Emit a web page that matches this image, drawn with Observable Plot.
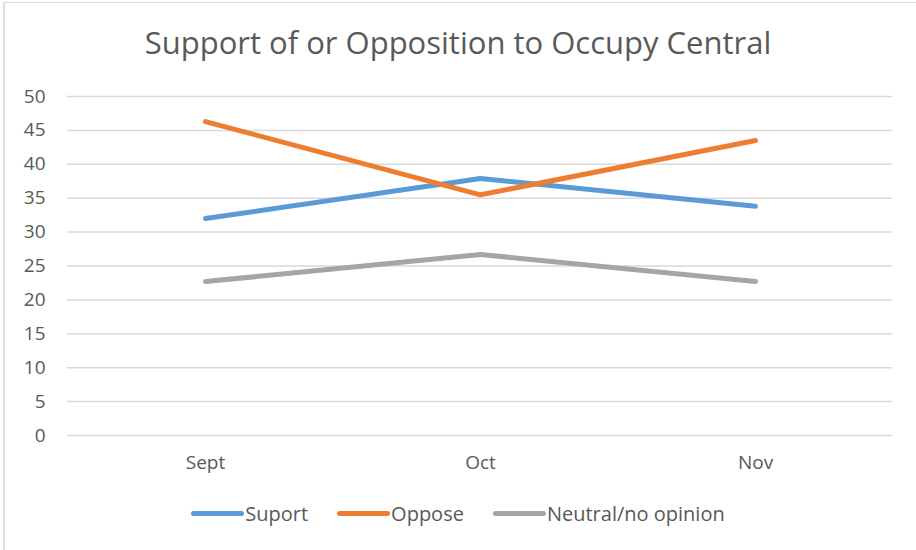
<!DOCTYPE html>
<html>
<head>
<meta charset="utf-8">
<script src="https://cdn.jsdelivr.net/npm/d3@7"></script>
<script src="https://cdn.jsdelivr.net/npm/@observablehq/plot@0.6"></script>
<style>
  html, body { margin: 0; padding: 0; background: #fff; }
  #frame { position: absolute; left: 3px; top: 2px; width: 915px; height: 560px; border-left: 2px solid #e0e0e0; border-top: 1px solid #dcdcdc; box-sizing: border-box; }
  #title { position: absolute; left: 0; top: 0; width: 916px; height: 80px; text-align: center; font-family: "Open Sans", sans-serif; font-size: 31px; color: #595959; line-height: 84px; }
  #chart { position: absolute; left: 0; top: 80px; }
  #legend { position: absolute; left: 0; top: 500px; width: 916px; display: flex; justify-content: center; align-items: center; font-family: "Open Sans", sans-serif; font-size: 20px; color: #595959; gap: 29px; }
  .item { display: flex; align-items: center; }
  .sw { width: 53px; height: 5px; border-radius: 3px; margin-right: 1px; }
</style>
</head>
<body>
<div id="frame"></div>
<div id="title">Support of or Opposition to Occupy Central</div>
<div id="chart"></div>
<div id="legend"></div>
<script>
const months = ["Sept", "Oct", "Nov"];
const seriesNames = ["Suport", "Oppose", "Neutral/no opinion"];
const suport = [32.0, 37.9, 33.8];
const oppose = [46.3, 35.5, 43.5];
const neutral = [22.7, 26.7, 22.7];
const colors = ["#5b9bd5", "#ed7d31", "#a5a5a5"];
const yTicks = [0, 5, 10, 15, 20, 25, 30, 35, 40, 45, 50];

const seriesValues = [suport, oppose, neutral];
const data = [];
seriesNames.forEach((s, i) => months.forEach((m, j) => data.push({series: s, month: m, value: seriesValues[i][j]})));

const chart = Plot.plot({
  width: 916,
  height: 400,
  marginTop: 16,
  marginBottom: 45,
  marginLeft: 67,
  marginRight: 24,
  style: { fontFamily: "Open Sans, sans-serif", fontSize: "19px", color: "#595959", background: "transparent" },
  x: { type: "point", domain: months, padding: 0.5, label: null, tickSize: 0, tickPadding: 20 },
  y: { domain: [0, 50], ticks: yTicks, label: null, tickSize: 0, tickPadding: 22 },
  color: { domain: seriesNames, range: colors },
  marks: [
    Plot.gridY(yTicks, { stroke: "#d9d9d9", strokeOpacity: 1, strokeWidth: 1.5 }),
    Plot.line(data, { x: "month", y: "value", z: "series", stroke: "series", strokeWidth: 5, strokeLinecap: "round", strokeLinejoin: "round" })
  ]
});
document.getElementById("chart").appendChild(chart);

const legend = document.getElementById("legend");
seriesNames.forEach((s, i) => {
  const item = document.createElement("div");
  item.className = "item";
  const sw = document.createElement("div");
  sw.className = "sw";
  sw.style.background = colors[i];
  const t = document.createElement("span");
  t.textContent = s;
  item.appendChild(sw);
  item.appendChild(t);
  legend.appendChild(item);
});
</script>
</body>
</html>
